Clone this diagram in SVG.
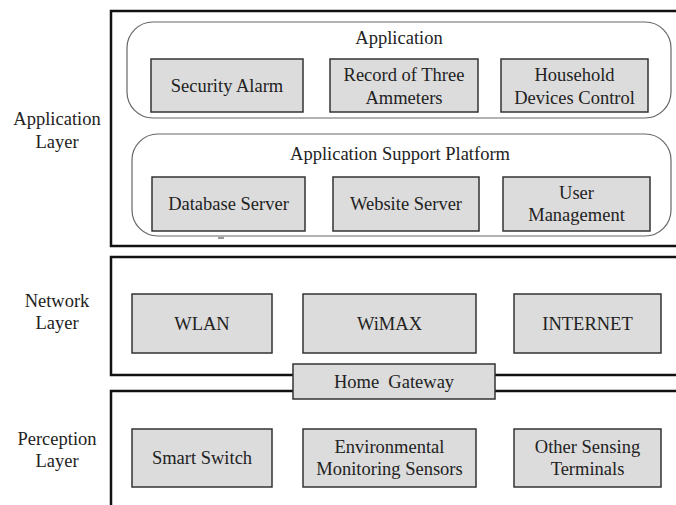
<svg xmlns="http://www.w3.org/2000/svg" width="676" height="505" viewBox="0 0 676 505">
  <style>
    text { font-family: "Liberation Serif", "Times New Roman", serif; font-size: 18.5px; fill: #222; text-anchor: middle; }
    .layer { fill: none; stroke: #111; stroke-width: 2.5; }
    .group { fill: none; stroke: #666; stroke-width: 1.2; }
    .box { fill: #dcdcdc; stroke: #333; stroke-width: 1.5; }
  </style>
  <rect width="676" height="505" fill="#fff"/>

  <!-- layer frames (open on the right edge) -->
  <g id="application-layer">
    <path class="layer" d="M680 11 H111 V246 H680"/>
    <text x="57" y="125">Application</text>
    <text x="57" y="148">Layer</text>
    <line x1="218" y1="238" x2="224" y2="238" stroke="#333" stroke-width="1"/>
  </g>
  <g id="network-layer">
    <path class="layer" d="M680 257 H111 V375 H680"/>
    <text x="57" y="307">Network</text>
    <text x="57" y="329">Layer</text>
  </g>
  <g id="perception-layer">
    <path class="layer" d="M680 391 H111 V510"/>
    <text x="57" y="445">Perception</text>
    <text x="57" y="467">Layer</text>
  </g>

  <!-- application group -->
  <g id="application">
    <rect class="group" x="127" y="22" width="544" height="96" rx="26"/>
    <text x="399" y="44">Application</text>
  </g>
  <g id="security-alarm">
    <rect class="box" x="151" y="59" width="152" height="53"/>
    <text x="227" y="92">Security Alarm</text>
  </g>
  <g id="record-ammeters">
    <rect class="box" x="330" y="59" width="148" height="53"/>
    <text x="404" y="81">Record of Three</text>
    <text x="404" y="104">Ammeters</text>
  </g>
  <g id="household-control">
    <rect class="box" x="501" y="59" width="147" height="53"/>
    <text x="574.5" y="81">Household</text>
    <text x="574.5" y="104">Devices Control</text>
  </g>

  <!-- application support platform group -->
  <g id="support-platform">
    <rect class="group" x="132" y="134" width="539" height="102" rx="26"/>
    <text x="400" y="160">Application Support Platform</text>
  </g>
  <g id="database-server">
    <rect class="box" x="152" y="177" width="153" height="54"/>
    <text x="228.5" y="210">Database Server</text>
  </g>
  <g id="website-server">
    <rect class="box" x="333" y="177" width="146" height="54"/>
    <text x="406" y="210">Website Server</text>
  </g>
  <g id="user-management">
    <rect class="box" x="503" y="177" width="147" height="54"/>
    <text x="576.5" y="199">User</text>
    <text x="576.5" y="221">Management</text>
  </g>

  <!-- network layer -->
  <g id="wlan">
    <rect class="box" x="132" y="294" width="140" height="59"/>
    <text x="202" y="330">WLAN</text>
  </g>
  <g id="wimax">
    <rect class="box" x="303" y="294" width="173" height="59"/>
    <text x="389.5" y="330">WiMAX</text>
  </g>
  <g id="internet">
    <rect class="box" x="514" y="294" width="147" height="59"/>
    <text x="587.5" y="330">INTERNET</text>
  </g>

  <!-- gateway bridging network and perception layers -->
  <g id="home-gateway">
    <rect class="box" x="293" y="364" width="202" height="35"/>
    <text x="394" y="388" xml:space="preserve">Home  Gateway</text>
  </g>

  <!-- perception layer -->
  <g id="smart-switch">
    <rect class="box" x="132" y="429" width="140" height="58"/>
    <text x="202" y="464">Smart Switch</text>
  </g>
  <g id="env-sensors">
    <rect class="box" x="303" y="429" width="173" height="58"/>
    <text x="389.5" y="453">Environmental</text>
    <text x="389.5" y="475">Monitoring Sensors</text>
  </g>
  <g id="other-terminals">
    <rect class="box" x="514" y="429" width="147" height="58"/>
    <text x="587.5" y="453">Other Sensing</text>
    <text x="587.5" y="475">Terminals</text>
  </g>

  <g id="connectors"></g>
</svg>
